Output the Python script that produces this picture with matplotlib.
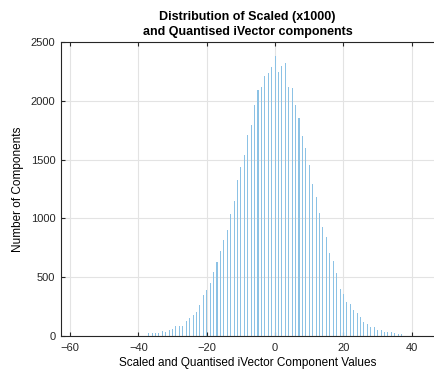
import numpy as np
import matplotlib
matplotlib.use('Agg')
import matplotlib.pyplot as plt

plt.rcParams['font.family'] = ['Liberation Sans', 'DejaVu Sans']

# component values (integers) and counts
values = np.arange(-37, 38)
counts = [25, 22, 22, 25, 42, 30, 50, 57, 82, 82,
          82, 127, 150, 178, 200, 260, 345, 388, 452, 548,
          628, 722, 818, 903, 1040, 1152, 1328, 1435, 1540, 1710,
          1790, 1968, 2093, 2116, 2214, 2237, 2290, 2380, 2243, 2300,
          2320, 2116, 2110, 1965, 1852, 1700, 1600, 1455, 1295, 1186,
          1047, 930, 840, 707, 636, 537, 400, 353, 293, 268,
          217, 197, 160, 118, 98, 80, 80, 53, 47, 38,
          38, 30, 22, 18, 18]
xticks = [-60, -40, -20, 0, 20, 40]
yticks = [0, 500, 1000, 1500, 2000, 2500]

fig = plt.figure(figsize=(4.34, 3.77), dpi=100)
ax = fig.add_axes([0.1406, 0.1088, 0.8594, 0.7798])

ax.bar(values, counts, width=0.3, color='#8cc2e5', linewidth=0)

ax.set_xlim(-62.64, 46.5)
ax.set_ylim(0, 2500)
ax.set_xticks(xticks)
ax.set_yticks(yticks)
ax.grid(True, color='#e3e3e3', linewidth=0.8)
ax.set_axisbelow(True)
ax.tick_params(direction='in', top=True, right=False, length=3, labelsize=8,
               color='#262626', labelcolor='#262626')
ax.tick_params(axis='x', pad=5)
ax.tick_params(axis='y', pad=4)
ax.spines['right'].set_visible(False)
for s in ax.spines.values():
    s.set_color('#262626')
    s.set_linewidth(0.8)

ax.set_title('Distribution of Scaled (x1000)\nand Quantised iVector components',
             fontsize=9, fontweight='bold', linespacing=1.3, pad=5)
ax.set_xlabel('Scaled and Quantised iVector Component Values', fontsize=8.5, labelpad=3)
ax.set_ylabel('Number of Components', fontsize=8.5, labelpad=5)

fig.savefig('out.png', dpi=100)
